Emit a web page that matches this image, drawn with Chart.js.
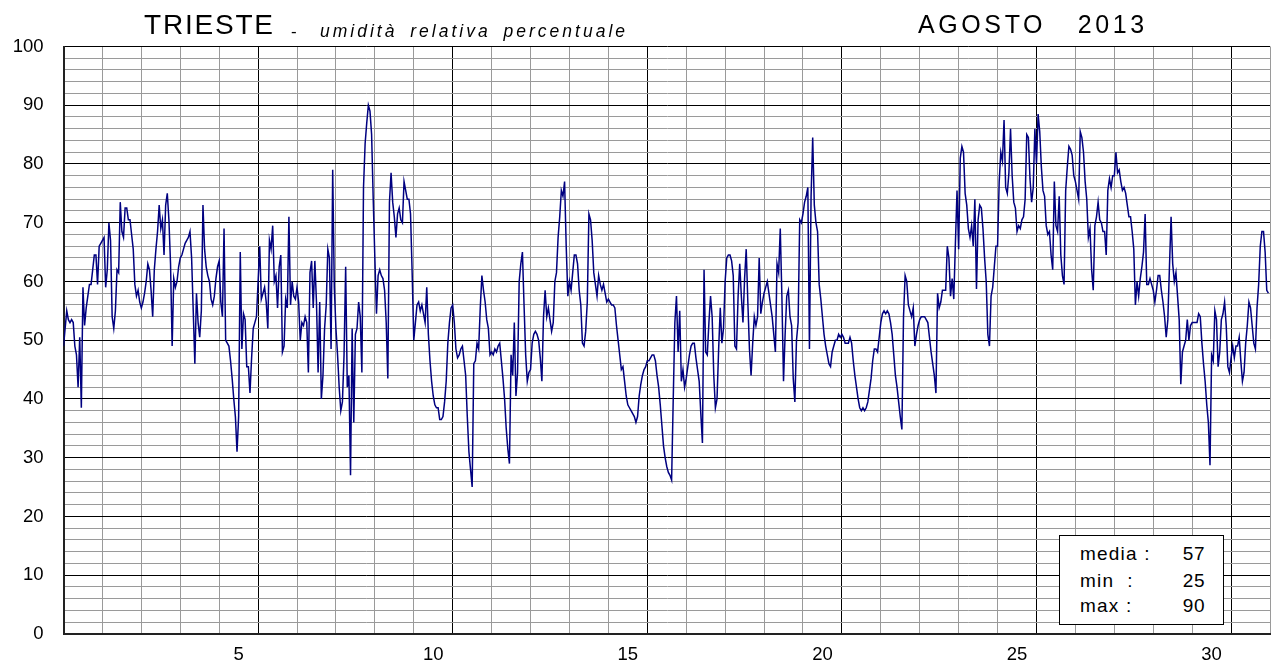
<!DOCTYPE html>
<html lang="it">
<head>
<meta charset="utf-8">
<title>Trieste - umidità relativa percentuale, agosto 2013</title>
<script src="https://cdn.jsdelivr.net/npm/chart.js@4.4.1/dist/chart.umd.min.js"></script>
<style>
  html, body { margin: 0; padding: 0; background: #fff; overflow: hidden; }
  #wrap { position: relative; width: 1275px; height: 665px; overflow: hidden; }
  #chart { position: absolute; left: 0; top: 0; }
  .t { position: absolute; white-space: pre; font-family: "Liberation Sans", Arial, sans-serif; color: #000; line-height: 1; }
  #city { left: 144px; top: 11px; font-size: 28px; letter-spacing: 1.8px; }
  #dash { left: 291px; top: 23px; font-size: 17px; }
  #subtitle { left: 320px; top: 22.5px; font-size: 17.5px; font-style: italic; letter-spacing: 3px; word-spacing: 5px; }
  #month { left: 918px; top: 12.3px; font-size: 25px; letter-spacing: 3.6px; }
  #statbox { position: absolute; left: 1059px; top: 535px; width: 165px; height: 90px; box-sizing: border-box;
             border: 1px solid #000; background: #fff; }
  .sl { left: 1080px; font-size: 19px; letter-spacing: 1.2px; }
  .sv { right: 70px; font-size: 19px; letter-spacing: 0.5px; text-align: right; }
</style>
</head>
<body>
<div id="wrap">
  <canvas id="chart" width="1280" height="665"></canvas>
  <div class="t" id="city">TRIESTE</div>
  <div class="t" id="dash">-</div>
  <div class="t" id="subtitle">umidità relativa percentuale</div>
  <div class="t" id="month">AGOSTO   2013</div>
  <div id="statbox"></div>
  <div class="t sl" style="top:543.9px">media :</div>
  <div class="t sl" style="top:570.6px">min  :</div>
  <div class="t sl" style="top:595.6px">max :</div>
  <div class="t sv" id="vMean" style="top:543.9px"></div>
  <div class="t sv" id="vMin" style="top:570.6px"></div>
  <div class="t sv" id="vMax" style="top:595.6px"></div>
</div>
<script>
// Hourly relative humidity (%), Trieste, August 2013 — one row per day, 00h..23h
const humidity = [
  49, 52, 55, 53.5, 53, 53.5, 53, 49, 47.5, 42, 50.5, 38.5, 59, 52.5, 55.5, 57.5, 59.5, 59.5, 62, 64.5, 64.5, 59.5, 66, 66.5,
  67, 67.5, 59, 62, 70, 67, 54, 52, 55, 62, 61.5, 73.5, 68.5, 67.5, 72.5, 72.5, 70.5, 70.5, 68, 65.5, 59.5, 57.5, 58.5, 56.5,
  55.5, 56.5, 58, 60, 63, 62, 58.5, 54, 62, 65.5, 68.5, 73, 69, 70.5, 64.5, 73, 75, 70.5, 63, 49, 60.5, 59, 60, 62.5,
  64, 64.5, 65.5, 66.5, 67, 67.5, 68.5, 64, 55, 46, 58, 53, 50.5, 55, 73, 65.5, 62.5, 61, 60, 57, 56, 57.5, 60.5, 62.5,
  63.5, 56.5, 54, 69, 50, 49.5, 49, 46.5, 43.5, 40, 37, 31, 37, 65, 48.5, 54.5, 53.5, 45.5, 45.5, 41, 47, 52, 53, 54,
  60, 66, 57, 58, 59, 56.5, 52, 67, 65.5, 69.5, 60, 61, 55.5, 62.5, 64.5, 48, 49, 57, 55.5, 71, 56, 60, 57.5, 57,
  59, 56.5, 50, 53, 52.5, 54, 53, 44.5, 61.5, 63.5, 55.5, 63.5, 56.5, 44.5, 56.5, 40, 44, 52, 56, 65.5, 64, 48.5, 79, 59,
  52, 47.5, 42, 38, 39.5, 47.5, 62.5, 42, 44, 27, 52, 36, 51, 52, 56.5, 54, 44.5, 76, 83.5, 87, 90, 89, 85, 74,
  64, 54.5, 61, 62, 61, 60.5, 58.5, 53, 43.5, 73.5, 78.5, 73.5, 71, 67.5, 71.5, 72.5, 70.5, 70, 77, 75.5, 74, 74, 71.5, 61.5,
  50, 53, 56, 56.5, 55, 56, 54.5, 53, 59, 51, 46.5, 43, 40.5, 39, 38.5, 38.5, 36.5, 36.5, 37, 39.5, 43, 49.5, 53, 55.5,
  56, 53, 48.5, 47, 47.5, 48.5, 49, 46.5, 44, 37, 31, 28, 25, 46, 46.5, 49.5, 48.5, 55.5, 61, 58.5, 56.5, 53.5, 52, 47.5,
  48, 47.5, 48.5, 48, 49, 49.5, 46.5, 43.5, 40, 35, 31.5, 29, 47.5, 44, 53, 40.5, 44.5, 60, 63, 65, 56, 47.5, 43, 44.5,
  45, 49.5, 51, 51.5, 51, 50, 47, 43, 54, 58.5, 54, 55.5, 53.5, 51.5, 53, 60, 61.5, 67.5, 71, 75.5, 74.5, 77, 66, 57.5,
  60, 58.5, 61.5, 64.5, 64.5, 63, 58.5, 56, 49.5, 49, 51.5, 56.5, 71.5, 70.5, 67, 61.5, 59.5, 57.5, 61, 59.5, 58.5, 59.5, 58, 56.5,
  57, 56.5, 56, 56, 55.5, 52.5, 50, 47.5, 45, 45.5, 43, 40.5, 39, 38.5, 38, 37.5, 37, 36, 37, 40.5, 42.5, 44, 45, 45.5,
  46.5, 46.5, 47, 47.5, 47.5, 46.5, 44, 42, 39, 35.5, 32, 30, 28.5, 27.5, 27, 26.2, 40, 53, 57.5, 48, 55, 43, 45, 42,
  43.5, 45.5, 47.5, 49, 49.5, 49.5, 47, 45, 43, 37.5, 32.5, 62, 48, 47.5, 53, 57.5, 54, 44, 38.5, 40, 48.5, 55.5, 49.5, 52,
  60, 64, 64.5, 64.5, 63.5, 61, 49, 48.5, 57.5, 63, 57.5, 53, 60.5, 65.5, 56.5, 48.5, 44, 49.5, 54, 52.5, 54, 64, 54.5, 56.5,
  58, 59, 60, 58, 56, 54, 51, 48, 63, 61.5, 69, 57.5, 43, 51, 57.5, 58.5, 54, 52.5, 43.5, 39.5, 50, 53, 70.5, 70,
  71.5, 73.5, 74.5, 76, 48.5, 74.5, 84.5, 73, 70, 68.5, 59.5, 57, 54, 51, 49, 47.5, 46, 45.5, 48, 49, 50, 50, 51, 50.5,
  51, 50.5, 49.5, 49.5, 49.5, 50.5, 49.5, 46.5, 44, 42, 40, 38.5, 38, 38.5, 38, 38.5, 39.5, 41.5, 43.5, 46.5, 48.5, 48.5, 48, 50.5,
  53, 54.5, 55, 54.5, 55, 54.5, 53, 51, 47.5, 44, 42, 39.5, 37, 34.8, 54, 61, 60, 56, 55, 54, 55.5, 49, 51, 52.5,
  53.5, 54, 54, 54, 53.5, 53, 50.5, 48, 46, 44, 41, 58, 55.5, 56.5, 58.5, 58.5, 58.5, 66, 64, 57.5, 60.5, 57, 66.5, 75.5,
  65.5, 81, 83, 82, 75, 73, 69, 67.5, 69.5, 66, 74, 58.7, 70.5, 73, 72.5, 69, 64, 60, 51, 49, 57.5, 59, 62.5, 66,
  66, 77, 82, 80.5, 87.5, 76, 75, 78.5, 86, 78, 73.5, 72.5, 68.5, 69.5, 69, 70.5, 71, 74, 85, 84.5, 77.5, 73.5, 76, 86,
  80, 88.5, 85.5, 79.5, 75.5, 74.5, 69.5, 68, 68.5, 64.5, 62, 77, 69.5, 68.5, 74.5, 64.5, 61, 59.5, 75.5, 79.5, 83, 82.5, 81.5, 78,
  77, 75.5, 74, 85.5, 84.5, 82, 77, 74, 67.5, 69, 62, 58.5, 69.5, 71, 73.5, 70.5, 70, 68.5, 68.5, 64.5, 75.5, 77.5, 76, 78,
  78, 82, 78.5, 79, 77, 75.5, 76, 75, 73, 71, 71, 68.5, 65.5, 56, 60, 57.5, 60.5, 62.5, 65, 71.5, 59.5, 59.5, 60.5, 59.5,
  58.5, 56.5, 58.5, 61, 61, 58.5, 56.5, 54, 50.5, 53.5, 62.5, 71, 63, 60, 61.5, 57.5, 53.5, 42.5, 48, 49, 50, 53.5, 50, 52.5,
  53, 53, 53, 53, 54.5, 54, 49.5, 46, 43, 39, 36, 28.7, 47.5, 46.5, 55, 53.5, 45.5, 48, 53.5, 54.5, 56.5, 52.5, 45.5, 44.5,
  47, 49, 47, 49, 49, 50.5, 46.5, 43, 44.5, 49.5, 52.5, 56.5, 55.5, 52.5, 49.5, 48.5, 55.5, 59.5, 66, 68.5, 68.5, 65, 58.5, 58
];

const daysInMonth = 31;
const readingsPerDay = 24;
const dayLabels = [5, 10, 15, 20, 25, 30];   // shown under the middle of each labelled day
const yMax = 100;
const yMinorStep = 2;
const yMajorStep = 10;

// points on a day axis: reading i falls at i/24 days from the start of the month
const points = humidity.map((v, i) => ({ x: i / readingsPerDay, y: v }));

// summary figures for the box
const mean = humidity.reduce((a, b) => a + b, 0) / humidity.length;
document.getElementById('vMean').textContent = Math.round(mean);
document.getElementById('vMin').textContent = Math.round(Math.min(...humidity));
document.getElementById('vMax').textContent = Math.round(Math.max(...humidity));

const xTickValues = [];
for (let v = 0; v <= daysInMonth; v += 0.5) xTickValues.push(v);
const yTickValues = [];
for (let v = 0; v <= yMax; v += yMinorStep) yTickValues.push(v);

const tickFont = { family: '"Liberation Sans", Arial, sans-serif', size: 18.5 };

new Chart(document.getElementById('chart'), {
  type: 'line',
  data: {
    datasets: [{
      data: points,
      borderColor: '#000080',
      borderWidth: 1.5,
      pointRadius: 0,
      tension: 0,
      fill: false
    }]
  },
  options: {
    responsive: false,
    animation: false,
    devicePixelRatio: 1,
    layout: { padding: { top: 46.5, right: 2.5, left: 0, bottom: 0 } },
    plugins: { legend: { display: false }, tooltip: { enabled: false } },
    scales: {
      x: {
        type: 'linear',
        min: 0,
        max: daysInMonth,
        afterBuildTicks: (s) => { s.ticks = xTickValues.map(v => ({ value: v })); },
        afterFit: (s) => { s.height = 31; },
        grid: {
          drawTicks: false,
          lineWidth: 1,
          color: (c) => {
            const v = c.tick.value;
            if (!Number.isInteger(v)) return 'rgba(0,0,0,0)';
            return v % 5 === 0 ? '#000000' : '#9a9a9a';
          }
        },
        border: { color: '#222', width: 2 },
        ticks: {
          autoSkip: false,
          maxRotation: 0,
          minRotation: 0,
          padding: 10,
          color: '#000',
          font: tickFont,
          callback: (v) => dayLabels.includes(v + 0.5) ? String(v + 0.5) : ''
        }
      },
      y: {
        min: 0,
        max: yMax,
        afterBuildTicks: (s) => { s.ticks = yTickValues.map(v => ({ value: v })); },
        afterFit: (s) => { s.width = 63.5; },
        grid: {
          drawTicks: false,
          lineWidth: 1,
          color: (c) => c.tick.value % yMajorStep === 0 ? '#000000' : '#9a9a9a'
        },
        border: { color: '#222', width: 2 },
        ticks: {
          autoSkip: false,
          padding: 20,
          color: '#000',
          font: tickFont,
          callback: (v) => v % yMajorStep === 0 ? String(v) : ''
        }
      }
    }
  }
});
</script>
</body>
</html>
